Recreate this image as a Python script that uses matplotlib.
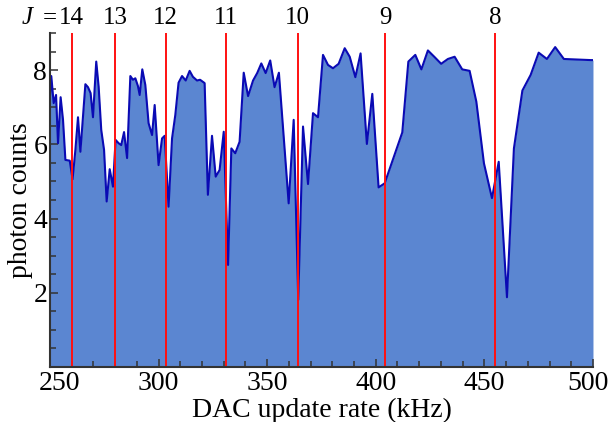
import numpy as np
import matplotlib.pyplot as plt
from matplotlib.ticker import MultipleLocator, FixedFormatter

# DAC update rate (kHz) and photon counts
rate = [250.0, 250.6, 251.7, 252.8, 253.7, 254.9, 256.0, 257.1, 259.1, 260.4,
        261.7, 262.9, 264.0, 266.3, 267.5, 268.7, 269.8, 271.3, 272.4, 273.6,
        274.9, 276.1, 277.5, 279.0, 280.2, 281.6, 282.8, 284.1, 285.5, 287.0,
        288.2, 289.3, 290.5, 291.3, 292.5, 293.9, 295.4, 297.0, 298.2, 300.0,
        301.6, 302.8, 304.6, 306.2, 307.7, 309.2, 310.8, 312.5, 314.3, 315.8,
        317.7, 319.1, 321.2, 322.7, 324.6, 326.3, 328.1, 330.0, 332.0, 333.5,
        335.3, 337.3, 339.2, 341.2, 343.5, 345.4, 347.3, 349.3, 351.4, 353.4,
        355.4, 359.9, 362.2, 364.3, 366.5, 368.8, 371.1, 373.4, 375.7, 378.0,
        380.3, 382.9, 385.7, 388.0, 390.6, 393.0, 395.9, 398.4, 401.3, 404.1,
        412.2, 415.0, 418.2, 421.0, 424.0, 427.1, 430.1, 433.2, 436.3, 439.8,
        443.2, 446.3, 449.8, 453.5, 456.6, 460.4, 463.6, 467.5, 471.3, 475.0,
        478.8, 482.6, 486.6, 499.0, 500.0]
counts = [7.29, 7.84, 7.11, 7.33, 6.03, 7.27, 6.66, 5.58, 5.56, 5.06,
          5.85, 6.73, 5.80, 7.62, 7.54, 7.38, 6.73, 8.23, 7.56, 6.39,
          5.85, 4.46, 5.33, 4.86, 6.12, 6.03, 5.98, 6.33, 5.63, 7.84,
          7.74, 7.78, 7.57, 7.33, 8.02, 7.60, 6.57, 6.25, 7.06, 5.44,
          6.16, 6.23, 4.32, 6.16, 6.79, 7.66, 7.84, 7.72, 7.98, 7.82,
          7.72, 7.74, 7.65, 4.64, 6.23, 5.13, 5.31, 6.34, 2.75, 5.89,
          5.76, 6.07, 7.93, 7.30, 7.72, 7.92, 8.18, 7.92, 8.26, 7.54,
          7.93, 4.41, 6.66, 1.81, 6.48, 4.93, 6.84, 6.73, 8.41, 8.14,
          8.05, 8.17, 8.59, 8.36, 7.81, 8.45, 6.01, 7.36, 4.84, 4.95,
          6.32, 8.23, 8.41, 8.02, 8.53, 8.35, 8.17, 8.30, 8.36, 8.02,
          7.98, 7.15, 5.49, 4.55, 5.53, 1.88, 5.89, 7.45, 7.87, 8.47,
          8.30, 8.62, 8.30, 8.27, 8.27]

# resonance positions for each J
J_values = [14, 13, 12, 11, 10, 9, 8]
J_rates = [260.0, 280.0, 303.3, 330.9, 364.0, 404.4, 455.0]

x_ticks = [250, 300, 350, 400, 450, 500]
y_ticks = [2, 4, 6, 8]

plt.rcParams['font.family'] = ['Liberation Serif', 'DejaVu Serif']
plt.rcParams['font.size'] = 20

fig = plt.figure(figsize=(6.11, 4.22), dpi=100)
ax = fig.add_axes([0.0818, 0.1303, 0.8887, 0.7915])

ax.fill_between(rate, counts, 0, color='#5b86d1', linewidth=0)
ax.plot(rate, counts, color='#0a0ab4', linewidth=1.5)

for J, f in zip(J_values, J_rates):
    ax.axvline(f, color='#ff1010', linewidth=1.4)
    ax.text(f, 9.12, str(J), ha='center', va='bottom', fontsize=18, clip_on=False)

# "J =" prefix in front of the first label
ax.annotate('=', xy=(J_rates[0], 9.12), xytext=(-10.5, 0), textcoords='offset points',
            ha='right', va='bottom', fontsize=18, annotation_clip=False)
ax.annotate('J', xy=(J_rates[0], 9.12), xytext=(-28, 0), textcoords='offset points',
            ha='right', va='bottom', fontsize=18, fontstyle='italic',
            annotation_clip=False)

ax.set_xlim(250, 500)
ax.set_ylim(0, 9)
ax.set_xticks(x_ticks)
# the two edge labels are drawn separately, nudged inwards
ax.set_xticklabels([''] + [str(v) for v in x_ticks[1:-1]] + [''])
ax.xaxis.set_minor_locator(MultipleLocator(10))
ax.set_yticks(y_ticks)
ax.yaxis.set_minor_locator(MultipleLocator(0.5))
ax.tick_params(which='both', direction='in', color='#333333', width=1.1)
ax.tick_params(which='major', length=6)
ax.tick_params(which='minor', length=4)
ax.tick_params(axis='x', pad=3)
ax.tick_params(axis='y', pad=2)

for v, dx in [(x_ticks[0], 6.5), (x_ticks[-1], -3.5)]:
    ax.annotate(str(v), xy=(v, 0), xytext=(dx, -3), textcoords='offset points',
                ha='center', va='top', annotation_clip=False)

for side in ['top', 'right']:
    ax.spines[side].set_visible(False)
for side in ['left', 'bottom']:
    ax.spines[side].set_color('#333333')
    ax.spines[side].set_linewidth(1.5)

ax.set_xlabel('DAC update rate (kHz)', labelpad=1)
ax.set_ylabel('photon counts', labelpad=0)

fig.savefig('out.png', dpi=100)
